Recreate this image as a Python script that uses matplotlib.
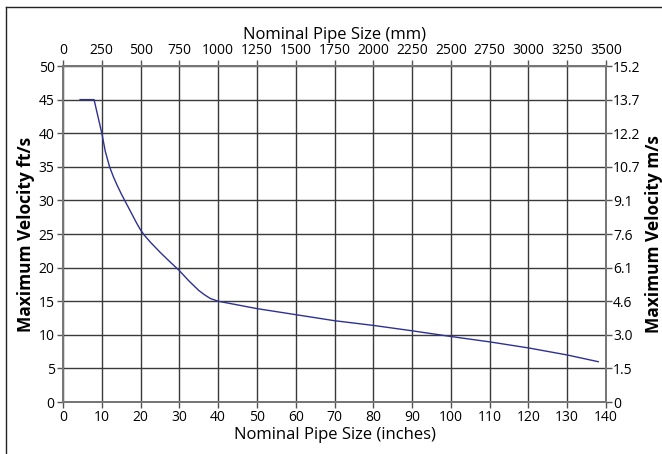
import matplotlib.pyplot as plt
from matplotlib.lines import Line2D

# pipe size (inches) vs maximum velocity (ft/s)
size_in = [4.4, 8, 10, 10.9, 12, 13, 14, 15, 15.9, 17, 18, 19, 20, 21, 22.5, 25, 27.5, 30,
           32.5, 35, 36.5, 38, 40, 50, 60, 70, 80, 90, 100, 110, 120, 130, 138]
vel_fts = [45, 45, 40, 37.3, 35, 33.5, 32.2, 31.0, 30, 28.8, 27.7, 26.6, 25.6, 24.8, 23.8,
           22.3, 20.9, 19.55, 18.0, 16.6, 15.95, 15.4, 15, 13.9, 13.0, 12.1, 11.4, 10.6, 9.75,
           8.95, 8.05, 7.0, 6.0]

in_ticks = list(range(0, 141, 10))
mm_labels = ["0", "250", "500", "750", "1000", "1250", "1500", "1750", "2000",
             "2250", "2500", "2750", "3000", "3250", "3500"]
fts_ticks = list(range(0, 51, 5))
ms_labels = ["0", "1.5", "3.0", "4.6", "6.1", "7.6", "9.1", "10.7", "12.2", "13.7", "15.2"]

plt.rcParams['font.family'] = ['Open Sans', 'DejaVu Sans']
plt.rcParams['font.size'] = 10

fig = plt.figure(figsize=(6.62, 4.54), dpi=100)
ax = fig.add_axes([0.0952, 0.1145, 0.8202, 0.7401])

ax.plot(size_in, vel_fts, color="#2e3192", lw=1.0, zorder=3)
ax.set_xlim(0, 140)
ax.set_ylim(0, 50)
ax.set_xticks(in_ticks)
ax.set_yticks(fts_ticks)
ax.grid(True, color="#3a3a3a", lw=1.0)
ax.tick_params(length=4, width=1, color="#555555", pad=2)
for s in ax.spines.values():
    s.set_color("#777777")
    s.set_linewidth(1.2)
ax.set_xlabel("Nominal Pipe Size (inches)", fontsize=12, labelpad=1)
ax.set_ylabel("Maximum Velocity ft/s", fontsize=12.5, fontweight="bold", labelpad=3)

# top axis in mm
axt = ax.twiny()
axt.set_xlim(0, 140)
axt.set_xticks(in_ticks)
axt.set_xticklabels(mm_labels)
axt.tick_params(length=4, width=1, color="#555555", pad=2)
axt.set_xlabel("Nominal Pipe Size (mm)", fontsize=12, labelpad=3)

# right axis in m/s
axr = ax.twinx()
axr.set_ylim(0, 50)
axr.set_yticks(fts_ticks)
axr.set_yticklabels(ms_labels)
axr.tick_params(length=4, width=1, color="#555555", pad=1)
axr.set_ylabel("Maximum Velocity m/s", fontsize=12.5, fontweight="bold", labelpad=3)

for a in (axt, axr):
    for s in a.spines.values():
        s.set_color("#777777")
        s.set_linewidth(1.2)

# outer frame lines (left and top)
fig.add_artist(Line2D([0.009, 0.009], [0.0, 0.985], color="#222222", lw=1.0))
fig.add_artist(Line2D([0.009, 1.0], [0.985, 0.985], color="#222222", lw=1.0))

fig.savefig("out.png", dpi=100)
